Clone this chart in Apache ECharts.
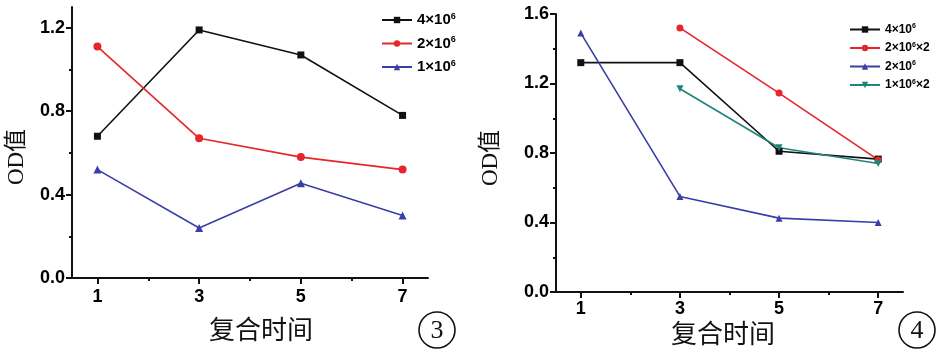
<!DOCTYPE html>
<html>
<head>
<meta charset="utf-8">
<script src="https://cdn.jsdelivr.net/npm/echarts@6/dist/echarts.min.js"></script>
<style>
  html, body { margin: 0; padding: 0; background: #fff; }
  #chart { width: 938px; height: 354px; }
</style>
</head>
<body>
<div id="chart"></div>
<script>
  // 复合时间
  const times = [1, 3, 5, 7]
  const xTickMajor = [1, 3, 5, 7]
  const xTickMinor = [2, 4, 6]
  // 图③
  const left4e6 = [0.68, 1.19, 1.07, 0.78]
  const left2e6 = [1.11, 0.67, 0.58, 0.52]
  const left1e6 = [0.52, 0.24, 0.455, 0.30]
  const leftYMajor = [0, 0.4, 0.8, 1.2]
  const leftYMinor = [0.2, 0.6, 1.0]
  // 图④
  const right4e6 = [1.32, 1.32, 0.81, 0.765]
  const right2e6x2 = [null, 1.52, 1.145, 0.76]
  const right2e6 = [1.49, 0.55, 0.425, 0.40]
  const right1e6x2 = [null, 1.17, 0.83, 0.74]
  const rightYMajor = [0, 0.4, 0.8, 1.2, 1.6]
  const rightYMinor = [0.2, 0.6, 1.0, 1.4]

  // legend labels, {t|..} normal text, {s|..} superscript
  const legendText = {
    L1: '{t|4×10}{s|6}', L2: '{t|2×10}{s|6}', L3: '{t|1×10}{s|6}',
    R1: '{t|4×10}{s|6}', R2: '{t|2×10}{s|6}{t|×2}', R3: '{t|2×10}{s|6}', R4: '{t|1×10}{s|6}{t|×2}'
  }

  const BLACK = '#111'
  const RED = '#e5262a'
  const BLUE = '#3a3fa6'
  const TEAL = '#1f857a'
  const labelFont = '"Liberation Sans", Arial, sans-serif'
  const titleFont = '"Liberation Serif", "Noto Sans CJK SC", serif'

  const pts = (vals) => times.map((t, i) => [t, vals[i]]).filter(p => p[1] !== null)

  const mkX = (grid, major, margin) => ({
    type: 'value', gridIndex: grid, position: 'bottom', min: 0.5, max: 7.5,
    splitLine: { show: false },
    axisLine: { show: major, onZero: false, lineStyle: { color: BLACK, width: 2 } },
    axisTick: { show: true, inside: false, length: major ? 6 : 3, customValues: major ? xTickMajor : xTickMinor,
      lineStyle: { color: BLACK, width: 2 } },
    axisLabel: { show: major, customValues: xTickMajor, margin: margin, color: '#000',
      fontFamily: labelFont, fontWeight: 'bold', fontSize: 18 }
  })
  const mkY = (grid, max, major, ticks) => ({
    type: 'value', gridIndex: grid, position: 'left', min: 0, max: max,
    splitLine: { show: false },
    axisLine: { show: major, onZero: false, lineStyle: { color: BLACK, width: 2 } },
    axisTick: { show: true, inside: false, length: major ? 6 : 3, customValues: ticks,
      lineStyle: { color: BLACK, width: 2 } },
    axisLabel: { show: major, customValues: ticks, margin: 7, color: '#000',
      fontFamily: labelFont, fontWeight: 'bold', fontSize: 18,
      formatter: v => v.toFixed(1) }
  })
  const mkLine = (name, grid, vals, color, symbol, size, rotate) => ({
    name: name, type: 'line', xAxisIndex: grid * 2, yAxisIndex: grid * 2,
    data: pts(vals), symbol: symbol, symbolSize: size, symbolRotate: rotate || 0,
    lineStyle: { color: color, width: 1.6 }, itemStyle: { color: color },
    animation: false
  })
  const mkLegend = (names, left, top, fs, lh, gap) => ({
    data: names, orient: 'vertical', left: left, top: top,
    itemWidth: 30, itemHeight: 8, itemGap: gap,
    formatter: n => legendText[n],
    textStyle: {
      rich: {
        t: { fontFamily: labelFont, fontWeight: 'bold', fontSize: fs, lineHeight: lh, color: '#000' },
        s: { fontFamily: labelFont, fontWeight: 'bold', fontSize: Math.round(fs * 0.6), lineHeight: lh,
          verticalAlign: 'top', color: '#000' }
      }
    }
  })
  const txt = (x, y, text, size, rot) => ({
    type: 'text', x: x, y: y, rotation: rot || 0,
    style: { text: text, fontFamily: titleFont, fontSize: size, fill: '#111', align: 'center', verticalAlign: 'middle' }
  })
  const circ = (x, y, num) => ([
    { type: 'circle', shape: { cx: x, cy: y, r: 18 }, style: { fill: 'none', stroke: '#111', lineWidth: 1.6 } },
    txt(x, y + 1, num, 26)
  ])

  const chart = echarts.init(document.getElementById('chart'))
  chart.setOption({
    backgroundColor: '#fff',
    grid: [
      { left: 72, top: 7, width: 356, height: 271 },
      { left: 556, top: 14, width: 347, height: 278 }
    ],
    xAxis: [mkX(0, true, 10), mkX(0, false, 10), mkX(1, true, 8), mkX(1, false, 8)],
    yAxis: [mkY(0, 1.3, true, leftYMajor), mkY(0, 1.3, false, leftYMinor),
      mkY(1, 1.6, true, rightYMajor), mkY(1, 1.6, false, rightYMinor)],
    legend: [
      mkLegend(['L1', 'L2', 'L3'], 376, 7, 15, 16, 8),
      mkLegend(['R1', 'R2', 'R3', 'R4'], 844, 18, 12, 13, 6)
    ],
    series: [
      mkLine('L1', 0, left4e6, BLACK, 'rect', 7),
      mkLine('L2', 0, left2e6, RED, 'circle', 8),
      mkLine('L3', 0, left1e6, BLUE, 'triangle', 8),
      mkLine('R1', 1, right4e6, BLACK, 'rect', 7),
      mkLine('R2', 1, right2e6x2, RED, 'circle', 7),
      mkLine('R3', 1, right2e6, BLUE, 'triangle', 7),
      mkLine('R4', 1, right1e6x2, TEAL, 'triangle', 7, 180)
    ],
    graphic: [
      txt(261, 332, '复合时间', 26),
      txt(723, 336, '复合时间', 26),
      txt(17, 157, 'OD值', 23, Math.PI / 2),
      txt(491, 158, 'OD值', 23, Math.PI / 2),
      ...circ(437, 330, '3'),
      ...circ(917, 330, '4')
    ]
  })
</script>
</body>
</html>
